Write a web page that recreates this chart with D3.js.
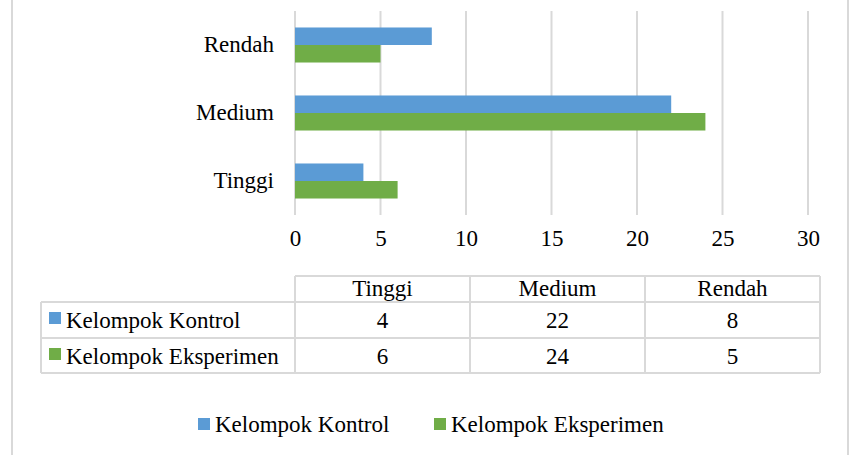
<!DOCTYPE html>
<html>
<head>
<meta charset="utf-8">
<script src="https://cdn.jsdelivr.net/npm/d3@7"></script>
<style>
  body { margin: 0; background: #fff; }
  svg { display: block; }
  svg text { font-family: "Times New Roman", "Liberation Serif", Tinos, "DejaVu Serif", serif; fill: #000; }
</style>
</head>
<body>
<svg id="chart"></svg>
<script>
        // Data
        const categories = ['Tinggi', 'Medium', 'Rendah'];
        const seriesNames = ['Kelompok Kontrol', 'Kelompok Eksperimen'];
        const kontrol = [4, 22, 8];
        const eksperimen = [6, 24, 5];
        const xTicks = [0, 5, 10, 15, 20, 25, 30];
        const colors = ['#5b9bd5', '#70ad47'];

        const seriesValues = [kontrol, eksperimen];

        const W = 849, H = 455;
        const svg = d3.select('#chart').attr('width', W).attr('height', H);

        // Chart frame (left and right edges visible)
        svg.append('line').attr('x1', 12).attr('x2', 12).attr('y1', 0).attr('y2', H)
            .attr('stroke', '#d9d9d9').attr('stroke-width', 2);
        svg.append('line').attr('x1', 848).attr('x2', 848).attr('y1', 0).attr('y2', H)
            .attr('stroke', '#d9d9d9').attr('stroke-width', 2);

        // Scales
        const xScale = d3.scaleLinear().domain([0, 30]).range([295, 808]);
        const yScale = d3.scaleBand()
            .domain(categories.slice().reverse())
            .range([11, 215])
            .paddingInner(0.485)
            .paddingOuter(0.2425);
        const ySub = d3.scaleBand().domain(seriesNames).range([0, yScale.bandwidth()]);

        // Gridlines
        svg.append('g').selectAll('line')
            .data(xTicks)
            .enter().append('line')
            .attr('x1', d => xScale(d)).attr('x2', d => xScale(d))
            .attr('y1', 11).attr('y2', 215)
            .attr('stroke', '#d9d9d9').attr('stroke-width', 2);

        // Bars
        seriesNames.forEach((s, si) => {
            svg.append('g').selectAll('rect')
                .data(categories)
                .enter().append('rect')
                .attr('x', xScale(0))
                .attr('y', c => yScale(c) + ySub(s))
                .attr('width', (c, i) => xScale(seriesValues[si][i]) - xScale(0))
                .attr('height', ySub.bandwidth())
                .attr('fill', colors[si]);
        });

        // Category labels
        const yAxis = svg.append('g')
            .attr('transform', 'translate(295,0)')
            .call(d3.axisLeft(yScale).tickSize(0).tickPadding(21));
        yAxis.select('.domain').remove();
        yAxis.attr('font-family', null).attr('font-size', 23);

        // X tick labels
        const xAxis = svg.append('g')
            .attr('transform', 'translate(0,230)')
            .call(d3.axisBottom(xScale).tickValues(xTicks).tickSize(0).tickPadding(0));
        xAxis.select('.domain').remove();
        xAxis.attr('font-family', null).attr('font-size', 23);

        // Data table
        const colScale = d3.scaleBand().domain(categories).range([295, 820]);
        const rowTops = [276, 302, 338, 373];
        const tbl = svg.append('g');
        const gridColor = '#d9d9d9';

        // header row lines
        tbl.append('line').attr('x1', 295).attr('x2', 820).attr('y1', rowTops[0]).attr('y2', rowTops[0])
            .attr('stroke', gridColor).attr('stroke-width', 2);
        [rowTops[1], rowTops[2], rowTops[3]].forEach(y => {
            tbl.append('line').attr('x1', 41).attr('x2', 820).attr('y1', y).attr('y2', y)
                .attr('stroke', gridColor).attr('stroke-width', 2);
        });
        // vertical lines
        tbl.append('line').attr('x1', 41).attr('x2', 41).attr('y1', rowTops[1]).attr('y2', rowTops[3])
            .attr('stroke', gridColor).attr('stroke-width', 2);
        categories.forEach(c => {
            tbl.append('line').attr('x1', colScale(c)).attr('x2', colScale(c))
                .attr('y1', rowTops[0]).attr('y2', rowTops[3])
                .attr('stroke', gridColor).attr('stroke-width', 2);
        });
        tbl.append('line').attr('x1', 820).attr('x2', 820).attr('y1', rowTops[0]).attr('y2', rowTops[3])
            .attr('stroke', gridColor).attr('stroke-width', 2);

        // header texts
        tbl.selectAll('.head')
            .data(categories)
            .enter().append('text')
            .attr('x', c => colScale(c) + colScale.bandwidth() / 2)
            .attr('y', 296)
            .attr('text-anchor', 'middle')
            .attr('font-size', 23)
            .text(c => c);

        const rowBase = [328, 364];
        seriesNames.forEach((s, si) => {
            tbl.append('rect')
                .attr('x', 49).attr('y', rowBase[si] - 16)
                .attr('width', 12).attr('height', 12)
                .attr('fill', colors[si]);
            tbl.append('text')
                .attr('x', 66).attr('y', rowBase[si])
                .attr('font-size', 23)
                .text(s);
            tbl.selectAll('.v' + si)
                .data(categories)
                .enter().append('text')
                .attr('x', c => colScale(c) + colScale.bandwidth() / 2)
                .attr('y', rowBase[si])
                .attr('text-anchor', 'middle')
                .attr('font-size', 23)
                .text((c, i) => seriesValues[si][i]);
        });

        // Legend
        const legendX = [198, 434];
        const legend = svg.append('g');
        seriesNames.forEach((s, si) => {
            legend.append('rect')
                .attr('x', legendX[si]).attr('y', 418)
                .attr('width', 12).attr('height', 12)
                .attr('fill', colors[si]);
            legend.append('text')
                .attr('x', legendX[si] + 17).attr('y', 432)
                .attr('font-size', 23)
                .text(s);
        });
</script>
</body>
</html>
